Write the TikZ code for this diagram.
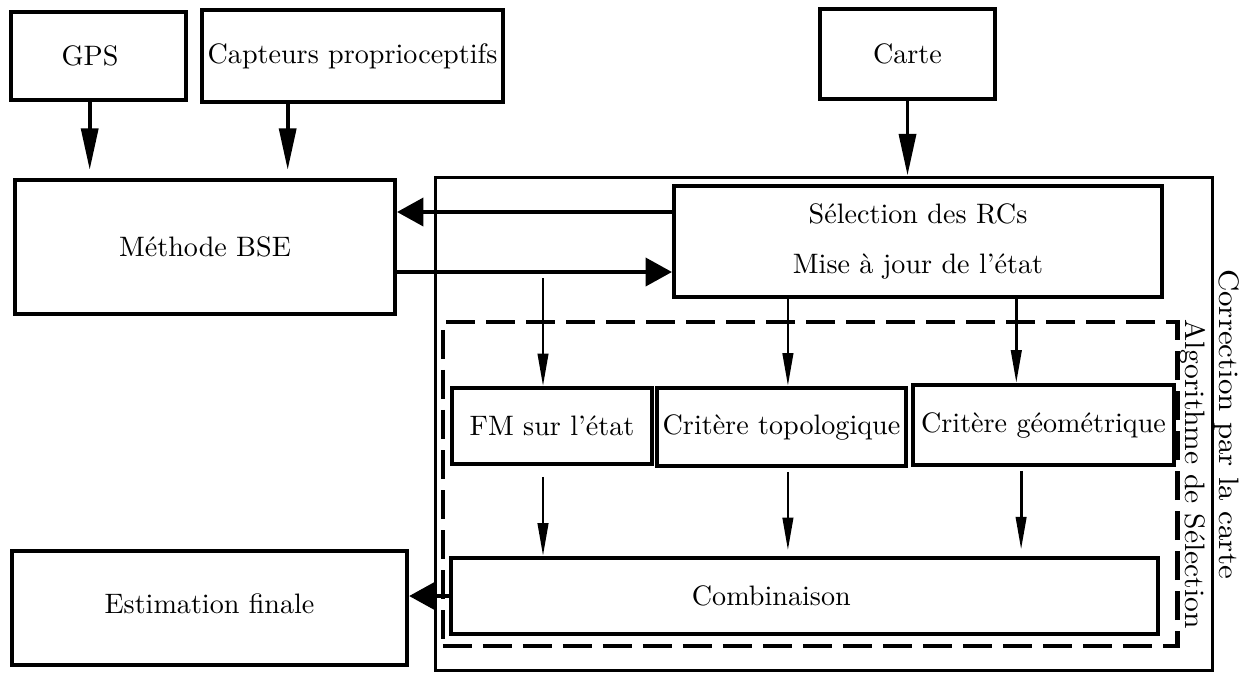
\documentclass[tikz,border=0pt]{standalone}
\usepackage{fontspec}
\usetikzlibrary{arrows.meta}

\begin{document}
\begin{tikzpicture}[x=0.0125cm,y=-0.0125cm,
  box/.style={draw=black, line width=1.4pt, inner sep=0pt, font=\normalsize},
  longtip/.style={-{Triangle[length=0.52cm,width=0.21cm]}, line width=1.4pt},
  widetip/.style={-{Triangle[length=0.33cm,width=0.35cm]}, line width=1.4pt},
  thintip/.style={-{Triangle[length=0.41cm,width=0.13cm]}, line width=1pt}]
\useasboundingbox (0,0) rectangle (1253,673);
% inputs
\node[box, minimum width=2.19cm, minimum height=1.10cm] (gps) at (98.5,56) {GPS\hspace*{2.1mm}};
\node[box, minimum width=3.76cm, minimum height=1.15cm] (cap) at (352.5,56) {\raisebox{0.6mm}{Capteurs proprioceptifs}};
\node[box, minimum width=2.19cm, minimum height=1.125cm] (carte) at (907.5,54) {Carte};
\node[box, minimum width=4.75cm, minimum height=1.675cm] (bse) at (205,247) {Méthode BSE};
\node[box, minimum width=4.94cm, minimum height=1.425cm] (est) at (209.5,608) {\raisebox{1mm}{Estimation finale}};
% map correction block
\node[draw=black, line width=1.1pt, minimum width=9.7cm, minimum height=6.17cm] (corr) at (824,424) {};
\node[box, align=center, minimum width=6.1cm, minimum height=1.39cm] (sel) at (918,241.5)
  {Sélection des RCs\\[2mm]Mise à jour de l'état};
\node[draw=black, line width=1.7pt, dash pattern=on 0.36cm off 0.14cm,
  minimum width=9.175cm, minimum height=4.05cm] (alg) at (810,484) {};
\node[box, line width=1.2pt, minimum width=2.5cm, minimum height=0.95cm] (fm) at (552,426) {FM sur l'état};
\node[box, minimum width=3.11cm, minimum height=0.975cm] (topo) at (781.5,427) {Critère topologique};
\node[box, minimum width=3.26cm, minimum height=1.0cm] (geo) at (1043.5,425) {Critère géométrique};
\node[box, minimum width=8.84cm, minimum height=0.95cm] (comb) at (804.5,596) {Combinaison\hspace*{8.3mm}};
\node[rotate=-90] (corrlabel) at (1227,424) {\scalebox{1.1}[1]{Correction par la carte}};
\node[rotate=-90] (alglabel) at (1193,474) {\scalebox{1.05}[1]{Algorithme de Sélection}};

\coordinate (capout) at ([xshift=-8.1mm]cap.south);
\coordinate (back) at (0,212);
\coordinate (fwd) at (0,272);
\coordinate (fmin) at (543,278);
\coordinate (topoin) at ([xshift=0.8mm]topo.north);
\coordinate (geoin) at ([xshift=-3.4mm]geo.north);
\coordinate (geoout) at ([xshift=-2.8mm]geo.south);

\draw[longtip, shorten >=1mm] ([xshift=-1.1mm]gps.south) -- ([xshift=-1.1mm]gps.south |- bse.north);
\draw[longtip, shorten >=1mm] (capout) -- (capout |- bse.north);
\draw[longtip] (carte.south) -- (carte.south |- corr.north);
\draw[widetip] (sel.west |- back) -- (bse.east |- back);
\draw[widetip] (bse.east |- fwd) -- (sel.west |- fwd);
\draw[thintip] (fmin) -- (fmin |- fm.north);
\draw[thintip] (sel.south -| topoin) -- (topoin);
\draw[thintip] (sel.south -| geoin) -- (geoin);
\draw[thintip, shorten <=1.4mm] (fm.south -| fmin) -- (comb.north -| fmin);
\draw[thintip, shorten <=0.5mm, shorten >=0.7mm] (topo.south -| topoin) -- (topoin |- comb.north);
\draw[thintip, shorten <=0.5mm, shorten >=0.8mm] (geoout) -- (geoout |- comb.north);
\draw[widetip] (comb.west) -- (est.east |- comb.west);
\end{tikzpicture}
\end{document}
